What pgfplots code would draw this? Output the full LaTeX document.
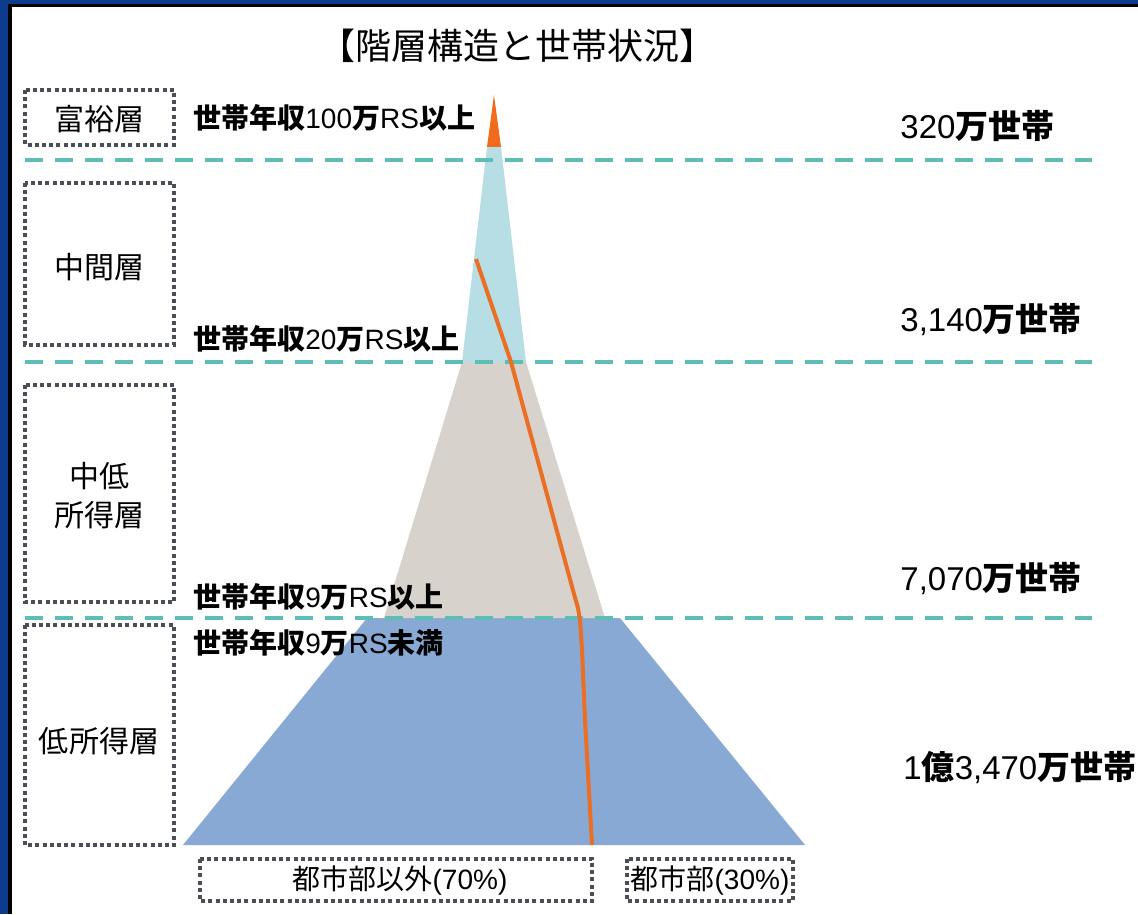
\documentclass[border=0pt]{standalone}
\usepackage{fontspec}
\setmainfont{Noto Sans CJK JP}
\newfontfamily\lat{Liberation Sans}
\usepackage{pgfplots}
\pgfplotsset{compat=1.18}
\definecolor{navyb}{HTML}{0B3C8E}
\definecolor{pblue}{HTML}{88A9D4}
\definecolor{pgray}{HTML}{D7D3CC}
\definecolor{plight}{HTML}{B8DEE5}
\definecolor{porange}{HTML}{F26A1B}
\definecolor{pline}{HTML}{EA6E24}
\definecolor{pteal}{HTML}{5EBEB6}
\definecolor{pdot}{HTML}{4A4F55}
\begin{document}
\begin{tikzpicture}
\begin{axis}[width=569pt,height=457pt,scale only axis,
  xmin=0,xmax=1138,ymin=0,ymax=914,y dir=reverse,
  axis lines=none,ticks=none,clip=false]
% frame
\fill[white] (axis cs:0,0) rectangle (axis cs:1138,914);
\fill[navyb] (axis cs:0,0) rectangle (axis cs:1138,4);
\fill[navyb] (axis cs:0,0) rectangle (axis cs:8,914);
\fill[black] (axis cs:8,4) rectangle (axis cs:1138,7);
\fill[black] (axis cs:8,4) rectangle (axis cs:12,914);
% pyramid bands
\addplot[fill=pblue,draw=none] coordinates {(367,618) (620,618) (805,845) (183,845)} -- cycle;
\addplot[fill=pgray,draw=none] coordinates {(462,362) (526,362) (605,618) (384,618)} -- cycle;
\addplot[fill=plight,draw=none] coordinates {(487,147) (501,147) (526,362) (462,362)} -- cycle;
\addplot[fill=porange,draw=none] coordinates {(494,95) (501,147) (487,147)} -- cycle;
% dashed separators
\addplot[pteal,line width=2pt,dash pattern=on 9pt off 6pt] coordinates {(25,160) (1092,160)};
\addplot[pteal,line width=2pt,dash pattern=on 9pt off 6pt] coordinates {(25,362) (1092,362)};
\addplot[pteal,line width=2pt,dash pattern=on 9pt off 6pt] coordinates {(25,618) (1092,618)};
% urban share line
\addplot[pline,line width=2pt] coordinates {(476,259) (511,362) (574,594) (578,608) (580,620) (582,650) (585,720) (592,845)};
% dotted boxes
\tikzset{dbox/.style={pdot,line width=2pt,dash pattern=on 2pt off 1.6pt}}
\draw[dbox] (axis cs:25,90) rectangle (axis cs:174,145);
\draw[dbox] (axis cs:25,183) rectangle (axis cs:174,345);
\draw[dbox] (axis cs:25,385) rectangle (axis cs:174,602);
\draw[dbox] (axis cs:25,625) rectangle (axis cs:174,845);
\draw[dbox] (axis cs:200,859) rectangle (axis cs:592,901);
\draw[dbox] (axis cs:627,859) rectangle (axis cs:793,901);
% title
\node[inner sep=0] at (axis cs:517,46) {\fontsize{18pt}{20pt}\selectfont 【階層構造と世帯状況】};
% box labels
\node[inner sep=0] at (axis cs:99,119) {\fontsize{15pt}{17pt}\selectfont 富裕層};
\node[inner sep=0] at (axis cs:99,267) {\fontsize{15pt}{17pt}\selectfont 中間層};
\node[inner sep=0,align=center,font=\fontsize{15pt}{19.5pt}\selectfont] at (axis cs:99,496) {中低\\所得層};
\node[inner sep=0] at (axis cs:99,741) {\fontsize{15pt}{17pt}\selectfont 低所得層};
% income thresholds
\node[inner sep=0,anchor=west] at (axis cs:193,118) {\fontsize{14pt}{16pt}\selectfont\textbf{世帯年収}{\lat 100}\textbf{万}{\lat RS}\textbf{以上}};
\node[inner sep=0,anchor=west] at (axis cs:193,339) {\fontsize{14pt}{16pt}\selectfont\textbf{世帯年収}{\lat 20}\textbf{万}{\lat RS}\textbf{以上}};
\node[inner sep=0,anchor=west] at (axis cs:193,597) {\fontsize{14pt}{16pt}\selectfont\textbf{世帯年収}{\lat 9}\textbf{万}{\lat RS}\textbf{以上}};
\node[inner sep=0,anchor=west] at (axis cs:193,643) {\fontsize{14pt}{16pt}\selectfont\textbf{世帯年収}{\lat 9}\textbf{万}{\lat RS}\textbf{未満}};
% household counts
\node[inner sep=0,anchor=west] at (axis cs:900,126) {\fontsize{16.5pt}{19pt}\selectfont {\lat 320}\textbf{万世帯}};
\node[inner sep=0,anchor=west] at (axis cs:900,320) {\fontsize{16.5pt}{19pt}\selectfont {\lat 3,140}\textbf{万世帯}};
\node[inner sep=0,anchor=west] at (axis cs:900,578) {\fontsize{16.5pt}{19pt}\selectfont {\lat 7,070}\textbf{万世帯}};
\node[inner sep=0,anchor=west] at (axis cs:903,767) {\fontsize{16.5pt}{19pt}\selectfont {\lat 1}\textbf{億}{\lat 3,470}\textbf{万世帯}};
% bottom labels
\node[inner sep=0] at (axis cs:400,881) {\fontsize{14pt}{15pt}\selectfont 都市部以外{\lat (70\%)}};
\node[inner sep=0] at (axis cs:710,881) {\fontsize{14pt}{15pt}\selectfont 都市部{\lat (30\%)}};
\end{axis}
\end{tikzpicture}
\end{document}
